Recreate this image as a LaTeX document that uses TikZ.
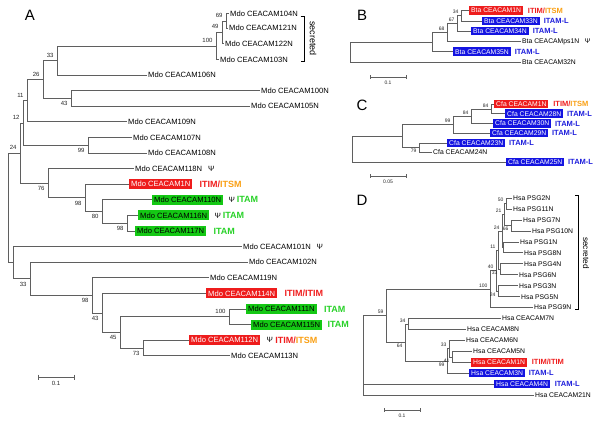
\documentclass[tikz,border=0pt]{standalone}
\usepackage{fontspec}
\setmainfont{Liberation Sans}
\usetikzlibrary{positioning,calc}
\definecolor{boxred}{RGB}{238,28,28}
\definecolor{boxgreen}{RGB}{20,200,20}
\definecolor{boxblue}{RGB}{20,20,225}
\definecolor{txred}{RGB}{240,30,30}
\definecolor{txorange}{RGB}{250,160,20}
\definecolor{txgreen}{RGB}{40,210,40}
\definecolor{txblue}{RGB}{30,30,220}
\definecolor{brgray}{RGB}{95,95,95}
\begin{document}
\begin{tikzpicture}[x=1pt,y=-1pt,
 br/.style={draw=brgray, line width=0.6pt},
 brk/.style={draw=black, line width=0.9pt},
 lfa/.style={anchor=west, inner xsep=1.5pt, inner ysep=0pt, text height=5.4pt, text depth=0pt, font=\fontsize{7.6}{8}\selectfont},
 bxa/.style={lfa, inner xsep=2pt, inner ysep=2.3pt},
 psia/.style={inner sep=0pt, text height=5.4pt, text depth=0pt, font=\fontsize{7.6}{8}\selectfont},
 mta/.style={inner sep=0pt, text height=6.4pt, text depth=0pt, font=\fontsize{9}{9}\selectfont\bfseries},
 bsa/.style={font=\fontsize{6}{6}\selectfont, inner sep=0pt, text=black!85},
 baup/.style={anchor=south east, xshift=-3.3pt, yshift=3pt},
 badn/.style={anchor=north east, xshift=-3.3pt, yshift=-3pt},
 lfs/.style={anchor=west, inner xsep=1.5pt, inner ysep=0pt, text height=4.9pt, text depth=0pt, font=\fontsize{6.8}{7}\selectfont},
 bxs/.style={lfs, inner xsep=2pt, inner ysep=1.8pt},
 psis/.style={inner sep=0pt, text height=4.9pt, text depth=0pt, font=\fontsize{6.8}{7}\selectfont},
 mts/.style={inner sep=0pt, text height=5.4pt, text depth=0pt, font=\fontsize{7.5}{8}\selectfont\bfseries},
 bss/.style={font=\fontsize{5}{5}\selectfont, inner sep=0pt, text=black!85},
 bsup/.style={anchor=south east, xshift=-2.3pt, yshift=1.6pt},
 bsdn/.style={anchor=north east, xshift=-2.3pt, yshift=-1.6pt},
 redbox/.style={fill=boxred, text=white},
 greenbox/.style={fill=boxgreen, text=black},
 bluebox/.style={fill=boxblue, text=white},
 panel/.style={font=\fontsize{15}{15}\selectfont, inner sep=0pt}
]
\path[use as bounding box, fill=white] (0,0) rectangle (600,421);

% ================= Panel A =================
\node[panel] (pA) at (30,15) {A};
\node[lfa] (l104) at (228.5,13.5) {Mdo CEACAM104N};
\node[lfa] (l121) at (227.5,28.1) {Mdo CEACAM121N};
\node[lfa] (l122) at (223.5,43.7) {Mdo CEACAM122N};
\node[lfa] (l103) at (218.5,59.3) {Mdo CEACAM103N};
\node[lfa] (l106) at (146.5,74.9) {Mdo CEACAM106N};
\node[lfa] (l100) at (259.5,90.5) {Mdo CEACAM100N};
\node[lfa] (l105) at (249.5,106.1) {Mdo CEACAM105N};
\node[lfa] (l109) at (126.5,121.7) {Mdo CEACAM109N};
\node[lfa] (l107) at (131.5,137.3) {Mdo CEACAM107N};
\node[lfa] (l108) at (146.5,152.9) {Mdo CEACAM108N};
\node[lfa] (l118) at (133.5,168.5) {Mdo CEACAM118N};
\node[bxa,redbox] (l1) at (129,184.1) {Mdo CEACAM1N};
\node[bxa,greenbox] (l110) at (152,199.7) {Mdo CEACAM110N};
\node[bxa,greenbox] (l116) at (138,215.3) {Mdo CEACAM116N};
\node[bxa,greenbox] (l117) at (135,230.9) {Mdo CEACAM117N};
\node[lfa] (l101) at (241.5,246.5) {Mdo CEACAM101N};
\node[lfa] (l102) at (247.5,262.1) {Mdo CEACAM102N};
\node[lfa] (l119) at (208.5,277.7) {Mdo CEACAM119N};
\node[bxa,redbox] (l114) at (206,293.3) {Mdo CEACAM114N};
\node[bxa,greenbox] (l111) at (246,308.9) {Mdo CEACAM111N};
\node[bxa,greenbox] (l115) at (251,324.5) {Mdo CEACAM115N};
\node[bxa,redbox] (l112) at (189,340.1) {Mdo CEACAM112N};
\node[lfa] (l113) at (229.5,355.7) {Mdo CEACAM113N};

% psi and motifs A
\node[psia, right=4pt of l118] (p118) {Ψ};
\node[mta, right=7pt of l1] (m1) {\textcolor{txred}{ITIM/}\textcolor{txorange}{ITSM}};
\node[psia, right=5pt of l110] (p110) {Ψ};
\node[mta, text=txgreen, right=1.5pt of p110] (m110) {ITAM};
\node[psia, right=5pt of l116] (p116) {Ψ};
\node[mta, text=txgreen, right=1.5pt of p116] (m116) {ITAM};
\node[mta, text=txgreen, right=7pt of l117] (m117) {ITAM};
\node[psia, right=4pt of l101] (p101) {Ψ};
\node[mta, text=txred, right=7pt of l114] (m114) {ITIM/ITIM};
\node[mta, text=txgreen, right=7pt of l111] (m111) {ITAM};
\node[mta, text=txgreen, right=5pt of l115] (m115) {ITAM};
\node[psia, right=6pt of l112] (p112) {Ψ};
\node[mta, right=2pt of p112] (m112) {\textcolor{txred}{ITIM/}\textcolor{txorange}{ITSM}};

% internal nodes A
\coordinate (a69) at (226,20.8);
\coordinate (a49) at (222,32.25);
\coordinate (a100) at (216,45.8);
\coordinate (a33) at (57,60.35);
\coordinate (a43) at (71,98.3);
\coordinate (a26) at (43,79.3);
\coordinate (a11) at (27,100.5);
\coordinate (a99) at (88,145.1);
\coordinate (a12) at (23,122.8);
\coordinate (a98b) at (127,223.1);
\coordinate (a80) at (102,211.4);
\coordinate (a98a) at (85,197.75);
\coordinate (a76) at (48,183.1);
\coordinate (a24) at (20,152.95);
\coordinate (a100b) at (229,316.7);
\coordinate (a73) at (143,347.9);
\coordinate (a45) at (120,332.3);
\coordinate (a43b) at (102,312.8);
\coordinate (a98c) at (92,295.25);
\coordinate (a33b) at (30,278.7);
\coordinate (aX) at (13,262.6);
\coordinate (aR) at (8,207.8);

\draw[br] (a69) |- (l104.west);  \draw[br] (a69) |- (l121.west);
\draw[br] (a49) |- (a69);        \draw[br] (a49) |- (l122.west);
\draw[br] (a100) |- (a49);       \draw[br] (a100) |- (l103.west);
\draw[br] (a33) |- (a100);       \draw[br] (a33) |- (l106.west);
\draw[br] (a43) |- (l100.west);  \draw[br] (a43) |- (l105.west);
\draw[br] (a26) |- (a33);        \draw[br] (a26) |- (a43);
\draw[br] (a11) |- (a26);        \draw[br] (a11) |- (l109.west);
\draw[br] (a99) |- (l107.west);  \draw[br] (a99) |- (l108.west);
\draw[br] (a12) |- (a11);        \draw[br] (a12) |- (a99);
\draw[br] (a98b) |- (l116.west); \draw[br] (a98b) |- (l117.west);
\draw[br] (a80) |- (l110.west);  \draw[br] (a80) |- (a98b);
\draw[br] (a98a) |- (l1.west);   \draw[br] (a98a) |- (a80);
\draw[br] (a76) |- (l118.west);  \draw[br] (a76) |- (a98a);
\draw[br] (a24) |- (a12);        \draw[br] (a24) |- (a76);
\draw[br] (a100b) |- (l111.west);\draw[br] (a100b) |- (l115.west);
\draw[br] (a73) |- (l112.west);  \draw[br] (a73) |- (l113.west);
\draw[br] (a45) |- (a100b);      \draw[br] (a45) |- (a73);
\draw[br] (a43b) |- (l114.west); \draw[br] (a43b) |- (a45);
\draw[br] (a98c) |- (l119.west); \draw[br] (a98c) |- (a43b);
\draw[br] (a33b) |- (l102.west); \draw[br] (a33b) |- (a98c);
\draw[br] (aX) |- (l101.west);   \draw[br] (aX) |- (a33b);
\draw[br] (aR) |- (a24);         \draw[br] (aR) |- (aX);

% bootstrap A
\node[bsa,baup] (t69) at (a69) {69};
\node[bsa,baup] (t49) at (a49) {49};
\node[bsa,baup] (t100) at (a100) {100};
\node[bsa,baup] (t33) at (a33) {33};
\node[bsa,badn] (t43) at (a43) {43};
\node[bsa,baup] (t26) at (a26) {26};
\node[bsa,baup] (t11) at (a11) {11};
\node[bsa,badn] (t99) at (a99) {99};
\node[bsa,baup] (t12) at (a12) {12};
\node[bsa,baup] (t24) at (a24) {24};
\node[bsa,badn] (t76) at (a76) {76};
\node[bsa,badn] (t98a) at (a98a) {98};
\node[bsa,badn] (t80) at (a80) {80};
\node[bsa,badn] (t98b) at (a98b) {98};
\node[bsa,badn] (t33b) at (a33b) {33};
\node[bsa,badn] (t98c) at (a98c) {98};
\node[bsa,badn] (t43b) at (a43b) {43};
\node[bsa,badn] (t45) at (a45) {45};
\node[bsa,baup] (t100b) at (a100b) {100};
\node[bsa,badn] (t73) at (a73) {73};

% bracket A
\coordinate (brAt) at (300.5,16);
\coordinate (brAb) at (300.5,61);
\draw[brk] (brAt) -- ++(3.5,0) |- (brAb);
\node[rotate=-90, font=\fontsize{9}{9}\selectfont, inner sep=0pt] (secA) at (313,38.5) {secreted};

% scale A
\coordinate (sA1) at (38,377);
\coordinate (sA2) at (74,377);
\draw[br] (sA1) -- (sA2);
\draw[br] ([yshift=2.5pt]sA1) -- ([yshift=-2.5pt]sA1);
\draw[br] ([yshift=2.5pt]sA2) -- ([yshift=-2.5pt]sA2);
\node[bsa, anchor=north] (sAl) at ($(sA1)!0.5!(sA2)+(0,4.5)$) {0.1};

% ================= Panel B =================
\node[panel] (pB) at (362,15) {B};
\node[bxs,redbox] (lb1) at (469,10.5) {Bta CEACAM1N};
\node[bxs,bluebox] (lb33) at (482,20.8) {Bta CEACAM33N};
\node[bxs,bluebox] (lb34) at (471,31.1) {Bta CEACAM34N};
\node[lfs] (lbps) at (520.5,41.4) {Bta CEACAMps1N};
\node[bxs,bluebox] (lb35) at (453,51.7) {Bta CEACAM35N};
\node[lfs] (lb32) at (520.5,62) {Bta CEACAM32N};
\node[mts, right=4.5pt of lb1] (mb1) {\textcolor{txred}{ITIM/}\textcolor{txorange}{ITSM}};
\node[mts, text=txblue, right=3.5pt of lb33] (mb33) {ITAM-L};
\node[mts, text=txblue, right=3.5pt of lb34] (mb34) {ITAM-L};
\node[mts, text=txblue, right=3.5pt of lb35] (mb35) {ITAM-L};
\node[psis, right=3.5pt of lbps] (pbps) {Ψ};

\coordinate (b34) at (461,15.65);
\coordinate (b67) at (457,23.4);
\coordinate (b68) at (447,32.4);
\coordinate (b1) at (432,42.05);
\coordinate (bR) at (350,52.03);
\draw[br] (b34) |- (lb1.west);  \draw[br] (b34) |- (lb33.west);
\draw[br] (b67) |- (b34);       \draw[br] (b67) |- (lb34.west);
\draw[br] (b68) |- (b67);       \draw[br] (b68) |- (lbps.west);
\draw[br] (b1) |- (b68);        \draw[br] (b1) |- (lb35.west);
\draw[br] (bR) |- (b1);         \draw[br] (bR) |- (lb32.west);
\node[bss,bsup] (tb34) at (b34) {34};
\node[bss,bsup] (tb67) at (b67) {67};
\node[bss,bsup] (tb68) at (b68) {68};

\coordinate (sB1) at (370,77);
\coordinate (sB2) at (406,77);
\draw[br] (sB1) -- (sB2);
\draw[br] ([yshift=2pt]sB1) -- ([yshift=-2pt]sB1);
\draw[br] ([yshift=2pt]sB2) -- ([yshift=-2pt]sB2);
\node[bss, anchor=north] (sBl) at ($(sB1)!0.5!(sB2)+(0,3.5)$) {0.1};

% ================= Panel C =================
\node[panel] (pC) at (362,105) {C};
\node[bxs,redbox] (lc1) at (494,104) {Cfa CEACAM1N};
\node[bxs,bluebox] (lc28) at (505,113.7) {Cfa CEACAM28N};
\node[bxs,bluebox] (lc30) at (493,123.4) {Cfa CEACAM30N};
\node[bxs,bluebox] (lc29) at (490,133.1) {Cfa CEACAM29N};
\node[bxs,bluebox] (lc23) at (447,142.8) {Cfa CEACAM23N};
\node[lfs] (lc24) at (431.5,152.5) {Cfa CEACAM24N};
\node[bxs,bluebox] (lc25) at (506,162.2) {Cfa CEACAM25N};
\node[mts, right=4.5pt of lc1] (mc1) {\textcolor{txred}{ITIM/}\textcolor{txorange}{ITSM}};
\node[mts, text=txblue, right=3.5pt of lc28] (mc28) {ITAM-L};
\node[mts, text=txblue, right=3.5pt of lc30] (mc30) {ITAM-L};
\node[mts, text=txblue, right=3.5pt of lc29] (mc29) {ITAM-L};
\node[mts, text=txblue, right=3.5pt of lc23] (mc23) {ITAM-L};
\node[mts, text=txblue, right=3.5pt of lc25] (mc25) {ITAM-L};

\coordinate (c84a) at (491,108.85);
\coordinate (c84b) at (471,116.1);
\coordinate (c99) at (453,124.6);
\coordinate (c79) at (419,147.65);
\coordinate (c1) at (402,136.1);
\coordinate (cR) at (352,149.15);
\draw[br] (c84a) |- (lc1.west);  \draw[br] (c84a) |- (lc28.west);
\draw[br] (c84b) |- (c84a);      \draw[br] (c84b) |- (lc30.west);
\draw[br] (c99) |- (c84b);       \draw[br] (c99) |- (lc29.west);
\draw[br] (c79) |- (lc23.west);  \draw[br] (c79) |- (lc24.west);
\draw[br] (c1) |- (c99);         \draw[br] (c1) |- (c79);
\draw[br] (cR) |- (c1);          \draw[br] (cR) |- (lc25.west);
\node[bss,bsup] (tc84a) at (c84a) {84};
\node[bss,bsup] (tc84b) at (c84b) {84};
\node[bss,bsup] (tc99) at (c99) {99};
\node[bss,bsdn] (tc79) at (c79) {79};

\coordinate (sC1) at (370,176);
\coordinate (sC2) at (406,176);
\draw[br] (sC1) -- (sC2);
\draw[br] ([yshift=2pt]sC1) -- ([yshift=-2pt]sC1);
\draw[br] ([yshift=2pt]sC2) -- ([yshift=-2pt]sC2);
\node[bss, anchor=north] (sCl) at ($(sC1)!0.5!(sC2)+(0,3.5)$) {0.05};

% ================= Panel D =================
\node[panel] (pD) at (362,200) {D};
\node[lfs] (d2) at (511.5,198) {Hsa PSG2N};
\node[lfs] (d11) at (511.5,208.95) {Hsa PSG11N};
\node[lfs] (d7) at (521.5,219.9) {Hsa PSG7N};
\node[lfs] (d10) at (530.5,230.85) {Hsa PSG10N};
\node[lfs] (d1p) at (518.5,241.8) {Hsa PSG1N};
\node[lfs] (d8p) at (522.5,252.75) {Hsa PSG8N};
\node[lfs] (d4p) at (522.5,263.7) {Hsa PSG4N};
\node[lfs] (d6p) at (517.5,274.65) {Hsa PSG6N};
\node[lfs] (d3p) at (517.5,285.6) {Hsa PSG3N};
\node[lfs] (d5p) at (519.5,296.55) {Hsa PSG5N};
\node[lfs] (d9p) at (532.5,307.5) {Hsa PSG9N};
\node[lfs] (d7c) at (500.5,318.45) {Hsa CEACAM7N};
\node[lfs] (d8c) at (465.5,329.4) {Hsa CEACAM8N};
\node[lfs] (d6c) at (464.5,340.35) {Hsa CEACAM6N};
\node[lfs] (d5c) at (471.5,351.3) {Hsa CEACAM5N};
\node[bxs,redbox] (d1c) at (471,362.25) {Hsa CEACAM1N};
\node[bxs,bluebox] (d3c) at (469,373.2) {Hsa CEACAM3N};
\node[bxs,bluebox] (d4c) at (494,384.15) {Hsa CEACAM4N};
\node[lfs] (d21) at (533.5,395.1) {Hsa CEACAM21N};
\node[mts, text=txred, right=4.5pt of d1c] (md1) {ITIM/ITIM};
\node[mts, text=txblue, right=3.5pt of d3c] (md3) {ITAM-L};
\node[mts, text=txblue, right=4.5pt of d4c] (md4) {ITAM-L};

\coordinate (e50) at (506,203.5);
\coordinate (e66) at (511,225.4);
\coordinate (e21) at (504,214.45);
\coordinate (e18) at (503,247.3);
\coordinate (e24a) at (502,230.9);
\coordinate (e33) at (500,269.2);
\coordinate (e11) at (498,250.05);
\coordinate (e24b) at (498,291.1);
\coordinate (e40) at (496,270.6);
\coordinate (e100) at (490,289.05);
\coordinate (e34) at (408,323.9);
\coordinate (e41) at (452,356.8);
\coordinate (e33c) at (449,348.6);
\coordinate (e99) at (447,360.9);
\coordinate (e64) at (405,342.4);
\coordinate (e59) at (386,315.7);
\coordinate (eR) at (363,355.4);

\draw[br] (e50) |- (d2.west);   \draw[br] (e50) |- (d11.west);
\draw[br] (e66) |- (d7.west);   \draw[br] (e66) |- (d10.west);
\draw[br] (e21) |- (e50);       \draw[br] (e21) |- (e66);
\draw[br] (e18) |- (d1p.west);  \draw[br] (e18) |- (d8p.west);
\draw[br] (e24a) |- (e21);      \draw[br] (e24a) |- (e18);
\draw[br] (e33) |- (d4p.west);  \draw[br] (e33) |- (d6p.west);
\draw[br] (e11) |- (e24a);      \draw[br] (e11) |- (e33);
\draw[br] (e24b) |- (d3p.west); \draw[br] (e24b) |- (d5p.west);
\draw[br] (e40) |- (e11);       \draw[br] (e40) |- (e24b);
\draw[br] (e100) |- (e40);      \draw[br] (e100) |- (d9p.west);
\draw[br] (e34) |- (d7c.west);  \draw[br] (e34) |- (d8c.west);
\draw[br] (e41) |- (d5c.west);  \draw[br] (e41) |- (d1c.west);
\draw[br] (e33c) |- (d6c.west); \draw[br] (e33c) |- (e41);
\draw[br] (e99) |- (e33c);      \draw[br] (e99) |- (d3c.west);
\draw[br] (e64) |- (e34);       \draw[br] (e64) |- (e99);
\draw[br] (e59) |- (e100);      \draw[br] (e59) |- (e64);
\draw[br] (eR) |- (e59);        \draw[br] (eR) |- (d4c.west);
\draw[br] (eR) |- (d21.west);

\node[bss,bsup] (te50) at (e50) {50};
\node[bss,bsdn] (te66) at (e66) {66};
\node[bss,bsup] (te21) at (e21) {21};
\node[bss,bsup] (te24a) at (e24a) {24};
\node[bss,bsdn] (te33) at (e33) {33};
\node[bss,bsup] (te11) at (e11) {11};
\node[bss,bsdn] (te24b) at (e24b) {24};
\node[bss,bsup] (te40) at (e40) {40};
\node[bss,bsup] (te100) at (e100) {100};
\node[bss,bsup] (te34) at (e34) {34};
\node[bss,bsdn] (te41) at (e41) {41};
\node[bss,bsup] (te33c) at (e33c) {33};
\node[bss,bsdn] (te99) at (e99) {99};
\node[bss,bsdn] (te64) at (e64) {64};
\node[bss,bsup] (te59) at (e59) {59};

\coordinate (brDt) at (575,195.5);
\coordinate (brDb) at (575,309.5);
\draw[brk] (brDt) -- ++(3.5,0) |- (brDb);
\node[rotate=-90, font=\fontsize{8.3}{9}\selectfont, inner sep=0pt] (secD) at (586,253) {secreted};

\coordinate (sD1) at (384,410);
\coordinate (sD2) at (420,410);
\draw[br] (sD1) -- (sD2);
\draw[br] ([yshift=2pt]sD1) -- ([yshift=-2pt]sD1);
\draw[br] ([yshift=2pt]sD2) -- ([yshift=-2pt]sD2);
\node[bss, anchor=north] (sDl) at ($(sD1)!0.5!(sD2)+(0,3.5)$) {0.1};
\end{tikzpicture}
\end{document}
